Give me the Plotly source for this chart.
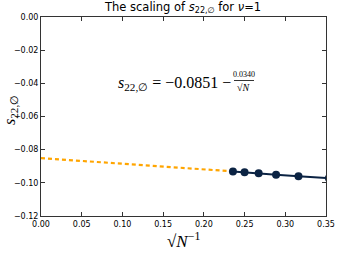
import plotly.graph_objects as go

# data
N_vals = [18, 16, 14, 12, 10, 8]
inv_sqrtN = [0.2357, 0.2500, 0.2673, 0.2887, 0.3162, 0.3536]
s_vals = [-0.0932, -0.0936, -0.0942, -0.0951, -0.0960, -0.0972]
fit_x = [0.0, 0.2357]
fit_y = [-0.0851, -0.0931]
x_ticks = [0.00, 0.05, 0.10, 0.15, 0.20, 0.25, 0.30, 0.35]
y_ticks = [0.00, -0.02, -0.04, -0.06, -0.08, -0.10, -0.12]

W, H = 344, 258
L, R, T, B = 41, 18, 17, 42

def fmt(v):
    s = "%.2f" % abs(v)
    return ("\u2212" + s) if v < 0 else s

def px2paper_x(px):
    return (px - L) / (W - L - R)

def py2paper_y(py):
    return 1 - (py - T) / (H - T - B)

fig = go.Figure()
fig.add_trace(go.Scatter(x=fit_x, y=fit_y, mode="lines",
                         line=dict(color="#FFA500", width=2.2, dash="4px,3px"),
                         showlegend=False))
fig.add_trace(go.Scatter(x=inv_sqrtN, y=s_vals, mode="lines+markers",
                         line=dict(color="#0b2343", width=2),
                         marker=dict(color="#0b2343", size=8),
                         showlegend=False))

axis_common = dict(showgrid=False, zeroline=False, showline=True, linecolor="#333",
                   linewidth=1, mirror="ticks", ticks="inside", ticklen=4,
                   tickcolor="#333", tickfont=dict(family="DejaVu Sans", size=8, color="#000"))
fig.update_xaxes(range=[0, 0.35], tickvals=x_ticks, ticktext=[fmt(v) for v in x_ticks], **axis_common)
fig.update_yaxes(range=[-0.12, 0], tickvals=y_ticks, ticktext=[fmt(v) for v in y_ticks], **axis_common)

def note(text, px, py, size, family="Liberation Serif", xanchor="center", angle=0):
    return dict(text=text, x=px2paper_x(px), y=py2paper_y(py), xref="paper", yref="paper",
                xanchor=xanchor, yanchor="middle", showarrow=False, textangle=angle,
                font=dict(family=family, size=size, color="#000"))

ann = [
    note("The scaling of <i>s</i><sub>22,\u2205</sub> for <i>\u03bd</i>=1", 182, 8, 11.5,
         family="DejaVu Sans"),
    note("<i>s</i><sub>22,\u2205</sub> = \u22120.0851 \u2212", 233, 83, 16, xanchor="right"),
    note("0.0340", 244, 75, 8),
    note("\u221a<i>N</i>", 244, 87, 10),
    note("<i>s</i><sub>22,\u2205</sub>", 10, 110, 16, angle=-90),
    note("\u221a<i>N</i><sup>\u22121</sup>", 183, 240, 17),
]

fig.update_layout(width=W, height=H, margin=dict(l=L, r=R, t=T, b=B, autoexpand=False),
                  paper_bgcolor="white", plot_bgcolor="white", annotations=ann,
                  shapes=[dict(type="line", xref="paper", yref="paper",
                               x0=px2paper_x(234), x1=px2paper_x(254),
                               y0=py2paper_y(80.5), y1=py2paper_y(80.5),
                               line=dict(color="#000", width=0.8))])
fig.write_html("out.html", config={"displayModeBar": False},
               post_script="document.body.style.margin='0';document.body.style.padding='0';")
